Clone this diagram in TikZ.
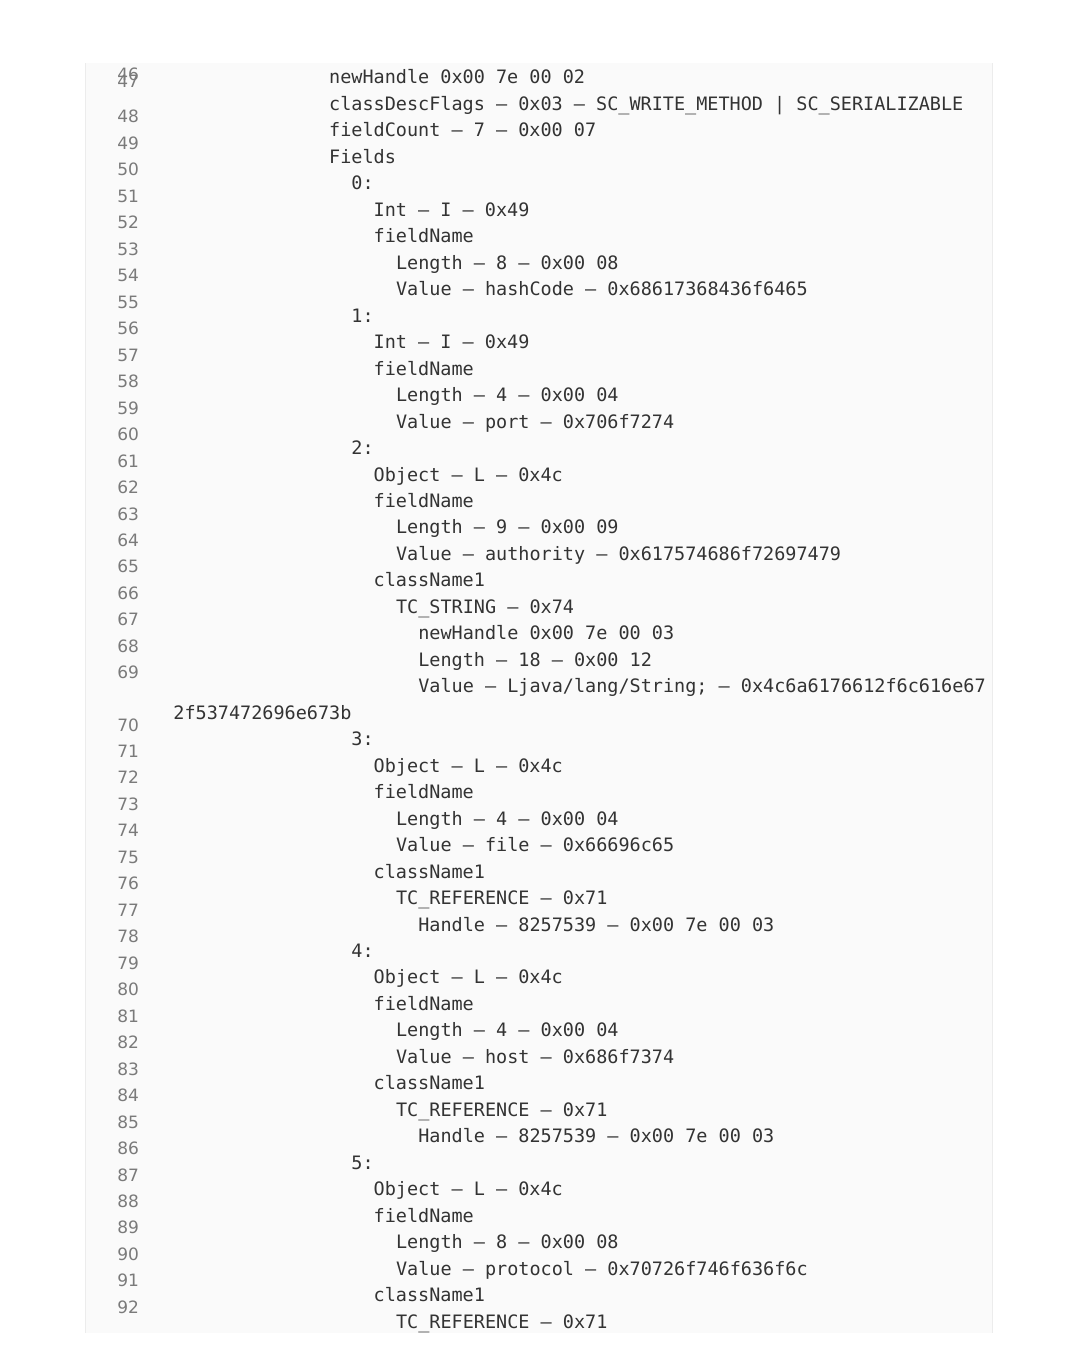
\documentclass[tikz,border=0pt]{standalone}
\usepackage{fontspec}
\setmonofont{DejaVu Sans Mono}
\newfontfamily\numfont{DejaVu Sans}
\definecolor{panelbg}{HTML}{FAFAFA}
\definecolor{panelrule}{HTML}{ECECEC}
\definecolor{codegray}{HTML}{333333}
\definecolor{numgray}{HTML}{7A7A7A}
\tikzstyle{codeline}=[anchor=base west,inner sep=0,text=codegray,font=\ttfamily\fontsize{9.24}{11}\selectfont]
\tikzstyle{lineno}=[anchor=base west,inner sep=0,text=numgray,font=\numfont\fontsize{8.5}{10}\selectfont]

\begin{document}
\begin{tikzpicture}[x=0.5pt,y=-0.5pt]
\useasboundingbox (0,0) rectangle (1080,1358);
\fill[panelbg] (85,63) rectangle (992,1333);
\draw[panelrule] (85,63)--(85,1333) (992,63)--(992,1333);

% code rows: row / column / text
\foreach \r/\c/\t in {0/14/{newHandle 0x00 7e 00 02},
1/14/{classDescFlags – 0x03 – SC\_WRITE\_METHOD | SC\_SERIALIZABLE},
2/14/{fieldCount – 7 – 0x00 07},
3/14/{Fields},
4/16/{0:},
5/18/{Int – I – 0x49},
6/18/{fieldName},
7/20/{Length – 8 – 0x00 08},
8/20/{Value – hashCode – 0x68617368436f6465},
9/16/{1:},
10/18/{Int – I – 0x49},
11/18/{fieldName},
12/20/{Length – 4 – 0x00 04},
13/20/{Value – port – 0x706f7274},
14/16/{2:},
15/18/{Object – L – 0x4c},
16/18/{fieldName},
17/20/{Length – 9 – 0x00 09},
18/20/{Value – authority – 0x617574686f72697479},
19/18/{className1},
20/20/{TC\_STRING – 0x74},
21/22/{newHandle 0x00 7e 00 03},
22/22/{Length – 18 – 0x00 12},
23/22/{Value – Ljava/lang/String; – 0x4c6a6176612f6c616e67},
24/0/{2f537472696e673b},
25/16/{3:},
26/18/{Object – L – 0x4c},
27/18/{fieldName},
28/20/{Length – 4 – 0x00 04},
29/20/{Value – file – 0x66696c65},
30/18/{className1},
31/20/{TC\_REFERENCE – 0x71},
32/22/{Handle – 8257539 – 0x00 7e 00 03},
33/16/{4:},
34/18/{Object – L – 0x4c},
35/18/{fieldName},
36/20/{Length – 4 – 0x00 04},
37/20/{Value – host – 0x686f7374},
38/18/{className1},
39/20/{TC\_REFERENCE – 0x71},
40/22/{Handle – 8257539 – 0x00 7e 00 03},
41/16/{5:},
42/18/{Object – L – 0x4c},
43/18/{fieldName},
44/20/{Length – 8 – 0x00 08},
45/20/{Value – protocol – 0x70726f746f636f6c},
46/18/{className1},
47/20/{TC\_REFERENCE – 0x71}}{
\node[codeline] (c\r) at (173+11.13*\c,84+26.47*\r) {\t};
}

% line numbers
\node[lineno] (n46) at (117,81) {46};
\node[lineno] (n47) at (117,88) {47};
\foreach \n in {48,...,69}{
\node[lineno] (n\n) at (117,123+26.47*\n-26.47*48) {\n};
}
\foreach \n in {70,...,92}{
\node[lineno] (n\n) at (117,731+26.47*\n-26.47*70) {\n};
}

\end{tikzpicture}
\end{document}
